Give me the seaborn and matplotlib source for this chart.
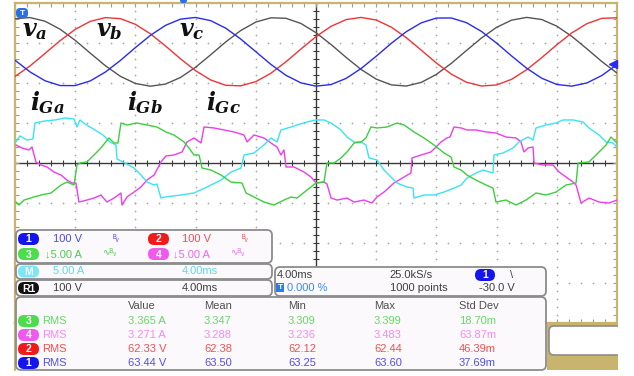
import numpy as np
import pandas as pd
import seaborn as sns
import matplotlib.pyplot as plt
from matplotlib.patches import FancyBboxPatch, Rectangle

# ---- data (time in ms, volts / amps) ----
t_volt = list(range(-20, 21))
v_a = [82.7, 85.6, 76.4, 56.4, 28.6, -3.3, -34.7, -61.2, -79.2, -86.0, -80.7, -64.1, -38.5, -7.5,
       24.6, 53.2, 74.3, 85.0, 83.8, 70.8, 47.8, 18.2, -14.0, -44.3, -68.3, -82.7, -85.6, -76.4,
       -56.4, -28.6, 3.3, 34.7, 61.2, 79.2, 86.0, 80.7, 64.1, 38.5, 7.5, -24.6, -53.2]
v_b = [-61.7, -35.3, -3.9, 28.0, 56.0, 76.1, 85.5, 82.9, 68.7, 44.8, 14.6, -17.6, -47.3, -70.4,
       -83.7, -85.1, -74.6, -53.7, -25.1, 6.9, 38.0, 63.7, 80.5, 86.0, 79.4, 61.7, 35.3, 3.9,
       -28.0, -56.0, -76.1, -85.5, -82.9, -68.7, -44.8, -14.6, 17.6, 47.3, 70.4, 83.7, 85.1]
v_c = [-21.1, -50.3, -72.5, -84.4, -84.5, -72.8, -50.8, -21.7, 10.5, 41.2, 66.1, 81.7, 85.8, 77.9,
       59.1, 31.9, 0.3, -31.4, -58.7, -77.7, -85.8, -81.9, -66.5, -41.7, -11.1, 21.1, 50.3, 72.5,
       84.4, 84.5, 72.8, 50.8, 21.7, -10.5, -41.2, -66.1, -81.7, -85.8, -77.9, -59.1, -31.9]

t_ia = [-20.00, -19.67, -19.20, -18.81, -18.67, -18.01, -17.34, -16.68, -16.08, -15.88, -15.68,
        -15.35, -14.69, -14.15, -13.69, -13.29, -13.22, -12.69, -12.09, -11.63, -11.23, -10.76,
        -10.57, -10.30, -10.03, -8.97, -8.11, -7.24, -6.31, -5.65, -4.98, -4.78, -4.12, -3.46,
        -2.99, -2.59, -2.33, -1.66, -1.26, -0.60, 0.00, 0.53, 1.00, 1.66, 2.06, 2.53, 2.99, 3.32,
        3.52, 4.05, 4.52, 4.98, 5.38, 6.05, 6.45, 6.51, 7.18, 7.84, 8.51, 9.17, 9.64, 10.03, 10.63,
        11.10, 11.76, 11.83, 12.43, 13.09, 13.49, 14.09, 14.42, 14.62, 15.28, 15.95, 16.41, 17.08,
        17.74, 18.14, 18.81, 19.27, 19.74, 20.00]
i_a = [2.50, 3.38, 2.88, 3.00, 5.00, 5.25, 5.38, 5.63, 5.50, 4.50, 5.38, 4.88, 4.13, 3.50, 2.63,
       2.25, 0.50, 0.00, -0.63, -1.50, -2.38, -2.75, -2.63, -4.38, -4.25, -4.00, -3.75, -3.00,
       -2.13, -1.13, -0.63, 1.00, 1.25, 2.25, 3.13, 2.63, 4.13, 4.50, 4.75, 5.13, 5.38, 5.38, 5.00,
       4.13, 3.25, 2.63, 2.63, 2.25, 0.63, 0.38, -0.88, -1.75, -2.50, -3.00, -3.13, -4.38, -4.00,
       -4.00, -3.63, -3.13, -2.75, -1.88, -1.25, -0.88, -1.25, 1.00, 1.25, 1.88, 2.63, 3.25, 2.88,
       4.38, 4.75, 5.00, 5.38, 5.38, 5.13, 4.38, 3.50, 2.63, 2.50, 2.00]

t_ib = [-19.93, -19.74, -19.40, -18.74, -18.27, -17.61, -16.94, -16.55, -16.08, -15.88, -15.68,
        -15.22, -14.75, -14.29, -13.76, -13.42, -13.16, -12.96, -12.56, -11.89, -11.23, -10.57,
        -9.97, -9.44, -8.77, -8.44, -8.11, -7.77, -7.57, -6.98, -6.31, -5.65, -4.92, -4.65, -4.12,
        -3.46, -2.79, -2.13, -1.66, -1.26, -0.60, 0.00, 0.53, 0.73, 1.20, 1.66, 2.06, 2.53, 2.99,
        3.32, 3.65, 4.05, 4.72, 5.38, 5.85, 6.51, 7.18, 7.84, 8.51, 8.97, 9.17, 9.64, 10.03, 10.63,
        11.30, 11.76, 11.96, 12.62, 13.29, 13.95, 14.62, 15.28, 15.95, 16.61, 17.28, 17.41, 18.14,
        18.81, 19.27, 19.60, 20.00]
i_b = [-4.88, -5.25, -4.63, -4.25, -4.00, -3.75, -2.75, -2.38, -2.75, -0.25, 0.00, 0.13, 1.00,
       1.88, 3.13, 2.50, 2.50, 5.00, 4.75, 5.00, 4.75, 4.50, 3.88, 3.50, 2.63, 1.88, 1.00, 1.00,
       -0.63, -0.88, -1.50, -2.38, -2.50, -3.75, -4.25, -4.88, -5.25, -4.63, -4.25, -4.38, -3.38,
       -2.50, -2.38, 0.00, 0.00, 0.63, 1.38, 2.50, 2.63, 3.13, 4.50, 4.38, 4.50, 5.00, 4.75, 3.88,
       3.13, 2.25, 1.25, 0.75, -0.50, -0.88, -1.50, -2.13, -2.75, -3.13, -4.88, -4.63, -5.25,
       -4.63, -3.75, -4.00, -3.63, -2.75, -2.50, 0.00, 0.13, 1.38, 2.25, 3.25, 2.50]

t_ic = [-19.93, -19.54, -19.07, -18.87, -18.61, -18.27, -17.87, -17.41, -16.94, -16.55, -16.21,
        -15.95, -15.75, -15.22, -14.75, -14.29, -13.89, -13.42, -12.96, -12.89, -12.56, -12.09,
        -11.63, -11.23, -10.76, -10.30, -9.97, -9.44, -8.90, -8.57, -8.11, -7.64, -7.44, -6.78,
        -6.11, -5.45, -4.78, -4.58, -4.12, -3.46, -2.99, -2.59, -2.33, -2.13, -1.99, -1.46, -0.80,
        -0.33, 0.00, 0.53, 0.73, 1.00, 1.40, 2.06, 2.53, 3.19, 3.72, 4.05, 4.52, 5.18, 5.85, 6.31,
        6.38, 6.98, 7.64, 8.31, 8.70, 8.90, 9.17, 9.64, 10.03, 10.63, 11.30, 11.96, 12.62, 13.29,
        13.62, 13.82, 14.09, 14.42, 14.49, 15.08, 15.75, 16.15, 16.61, 17.08, 17.28, 17.61, 18.14,
        18.81, 19.47, 20.00]
i_c = [2.25, 1.88, 1.63, 2.00, 0.13, -0.25, -0.50, -1.13, -1.50, -2.13, -2.50, -2.50, -4.88,
       -4.63, -4.38, -4.00, -4.88, -4.38, -3.75, -5.25, -4.25, -3.63, -3.00, -2.13, -1.50, 0.13,
       0.88, 1.00, 1.38, 2.63, 3.13, 2.50, 4.50, 4.38, 4.13, 3.88, 3.50, 2.63, 3.50, 3.13, 2.50,
       2.00, 1.00, 1.63, -0.50, -0.50, -1.13, -1.75, -2.50, -2.38, -2.63, -4.38, -4.63, -4.38,
       -4.88, -4.63, -5.00, -4.25, -3.63, -2.50, -1.75, -1.25, 0.63, 1.00, 1.38, 2.63, 3.13, 3.25,
       4.50, 4.38, 4.13, 4.13, 3.88, 3.75, 3.25, 3.13, 2.63, 1.38, 1.88, 2.00, 0.00, -0.25, -0.25,
       -1.13, -1.75, -2.38, -2.75, -5.00, -4.38, -4.88, -5.00, -4.63]

meas_badges = ['3', '4', '2', '1']
meas_value = ['3.365 A', '3.271 A', '62.33 V', '63.44 V']
meas_mean = ['3.347', '3.288', '62.38', '63.50']
meas_min = ['3.309', '3.236', '62.12', '63.25']
meas_max = ['3.399', '3.483', '62.44', '63.60']
meas_std = ['18.70m', '63.87m', '46.39m', '37.69m']

VOLTS_DIV = 100.0
AMPS_DIV = 5.0
V_OFFSET = 2.78

TAN = '#c8b46c'
BLUE, RED, GREEN, MAG, CYAN = '#2a2af0', '#f03434', '#3ccf3c', '#ee3cee', '#38e4f4'

sns.set_theme(style='white')
plt.rcParams['font.family'] = ['Liberation Sans', 'DejaVu Sans']
plt.rcParams['mathtext.fontset'] = 'custom'
plt.rcParams['mathtext.it'] = 'DejaVu Serif:italic:bold'
plt.rcParams['mathtext.rm'] = 'DejaVu Serif:bold'

W, H = 634, 376
fig = plt.figure(figsize=(W / 100, H / 100), dpi=100)
fig.patch.set_facecolor('white')
ax = fig.add_axes([15 / W, 1 - 323 / H, 602 / W, 320 / H])
ax.set_xlim(-20, 20)
ax.set_ylim(-4, 4)
ax.set_xticks([])
ax.set_yticks([])
ax.set_facecolor('white')
for s in ax.spines.values():
    s.set_color(TAN)
    s.set_linewidth(1.6)

# graticule
ys = np.arange(-4, 4.01, 0.2)
xs = np.arange(-20, 20.01, 0.8)
for gx in [-16, -12, -8, -4, 4, 8, 12, 16]:
    ax.scatter(np.full_like(ys, gx), ys, s=1.6, color='#a8a8a8', linewidths=0, zorder=1)
for gy in [-3, -2, -1, 1, 2, 3]:
    ax.scatter(xs, np.full_like(xs, gy), s=1.6, color='#a8a8a8', linewidths=0, zorder=1)
ax.axhline(0, color='#3a3a3a', lw=1.0, zorder=1)
ax.axvline(0, color='#3a3a3a', lw=1.0, zorder=1)
ax.plot(xs, np.zeros_like(xs), ls='none', marker='|', ms=4, mew=0.8, color='#3a3a3a', zorder=1)
ax.plot(np.zeros_like(ys), ys, ls='none', marker='_', ms=4, mew=0.8, color='#3a3a3a', zorder=1)
for yy in (-4, 4):
    ax.plot(xs, np.full_like(xs, yy), ls='none', marker='|', ms=6, mew=0.8, color='#9a9a9a', zorder=1)
for xx in (-20, 20):
    ax.plot(np.full_like(ys, xx), ys, ls='none', marker='_', ms=6, mew=0.8, color='#9a9a9a', zorder=1)

# traces
volts = pd.DataFrame({'t': t_volt, 'va': v_a, 'vb': v_b, 'vc': v_c})
for col, c in [('va', '#555555'), ('vb', RED), ('vc', BLUE)]:
    sns.lineplot(x=volts['t'], y=V_OFFSET + volts[col] / VOLTS_DIV, ax=ax, color=c,
                 lw=1.0, sort=False, estimator=None, zorder=3)
for tt, ii, c in [(t_ic, i_c, MAG), (t_ia, i_a, CYAN), (t_ib, i_b, GREEN)]:
    cur = pd.DataFrame({'t': tt, 'i': ii})
    sns.lineplot(x=cur['t'], y=cur['i'] / AMPS_DIV, ax=ax, color=c, lw=1.0,
                 sort=False, estimator=None, zorder=3)
ax.set_xlabel('')
ax.set_ylabel('')
ax.set_xlim(-20, 20)
ax.set_ylim(-4, 4)

# trigger level marker (-30 V on ch1)
ax.plot([19.75], [V_OFFSET - 30 / VOLTS_DIV], marker='<', ms=6, color=BLUE, clip_on=False, zorder=5)

# ---- overlay in pixel coordinates ----
ov = fig.add_axes([0, 0, 1, 1])
ov.set_xlim(0, W)
ov.set_ylim(H, 0)
ov.axis('off')

for txt, x in [(r'$v_a$', 22), (r'$v_b$', 96), (r'$v_c$', 179)]:
    ov.text(x, 36, txt, fontsize=17, color='#111111', va='baseline', ha='left')
for txt, x in [(r'$i_{Ga}$', 30), (r'$i_{Gb}$', 127), (r'$i_{Gc}$', 206)]:
    ov.text(x, 110, txt, fontsize=17, color='#111111', va='baseline', ha='left')

# small markers on the screen edges
ov.add_patch(FancyBboxPatch((16, 8), 12, 10, boxstyle='round,pad=0,rounding_size=4',
                            fc='#2a6ef0', ec='none'))
ov.text(22, 13.5, 'T', fontsize=6, color='white', ha='center', va='center', weight='bold')
ov.add_patch(FancyBboxPatch((180, -2), 7, 5, boxstyle='round,pad=0,rounding_size=2.5',
                            fc='#2a6ef0', ec='none'))

ov.plot([14.5, 14.5], [322, 370], color=TAN, lw=1.6)
ov.add_patch(Rectangle((547, 323), 71, 47, fc=TAN, ec='none'))
ov.add_patch(FancyBboxPatch((549, 326), 80, 29, boxstyle='round,pad=0,rounding_size=5',
                            fc='white', ec='#8c8c8c', lw=1.2))
ov.add_patch(Rectangle((618, 320), 20, 60, fc='white', ec='none', zorder=2))


def panel(x0, y0, x1, y1):
    ov.add_patch(FancyBboxPatch((x0, y0), x1 - x0, y1 - y0,
                                boxstyle='round,pad=0,rounding_size=5',
                                fc='#fcf9fc', ec='#8c8c8c', lw=1.3, zorder=2))


def badge(x, y, label, color, w=21):
    ov.add_patch(FancyBboxPatch((x, y - 6), w, 12, boxstyle='round,pad=0,rounding_size=6',
                                fc=color, ec='none', zorder=3))
    ov.text(x + w / 2, y + 0.5, label, fontsize=7.5, color='white', weight='bold',
            ha='center', va='center', zorder=4)


def label(x, y, s, color, size=8):
    ov.text(x, y, s, fontsize=size, color=color, ha='left', va='center', zorder=4)


DARK = '#404040'
panel(16, 230, 272, 263)
badge(18, 239, '1', '#1414ee')
label(53, 239, '100 V', '#4a4af0')
label(113, 238, 'ᴮᵥ', '#4a4af0', 6.5)
badge(148, 239, '2', '#f01a1a')
label(182, 239, '100 V', '#f05050')
label(242, 238, 'ᴮᵥ', '#f05050', 6.5)
badge(18, 254, '3', '#4cdc4c')
label(45, 254, '↓5.00 A', '#4ccc4c')
label(102, 253, '∿ᴮᵥ', '#4ccc4c', 6.5)
badge(148, 254, '4', '#ee5aee')
label(173, 254, '↓5.00 A', '#ee66ee')
label(230, 253, '∿ᴮᵥ', '#ee66ee', 6.5)

panel(16, 264, 272, 279)
badge(18, 271.5, 'M', '#7ae6f6')
label(53, 271.5, '5.00 A', '#5cd8ec')
label(182, 271.5, '4.00ms', '#5cd8ec')

panel(16, 280, 272, 296)
badge(18, 288, 'R1', '#111111')
label(53, 288, '100 V', DARK)
label(182, 288, '4.00ms', DARK)

panel(275, 267, 546, 296)
label(277, 275, '4.00ms', DARK)
label(389, 275, '25.0kS/s', DARK)
badge(475, 275, '1', '#1414ee', w=20)
label(510, 275, '\\', DARK)
ov.add_patch(Rectangle((276, 283), 8, 9, fc='#2a7af0', ec='none', zorder=3))
ov.text(280, 287.8, 'T', fontsize=6, color='white', ha='center', va='center', weight='bold', zorder=4)
label(287, 288, '0.000 %', '#3a8af0')
label(390, 288, '1000 points', DARK)
label(479, 288, '-30.0 V', DARK)

panel(16, 297, 546, 370)
col_x = [128, 204, 288, 374, 459]
for x, h in zip(col_x, ['Value', 'Mean', 'Min', 'Max', 'Std Dev']):
    label(x, 306, h, '#505050')
row_colors = {'3': ('#4cdc4c', '#66d866'), '4': ('#ee5aee', '#f58af5'),
              '2': ('#f01a1a', '#f05050'), '1': ('#1414ee', '#5050f0')}
for k, b in enumerate(meas_badges):
    y = 321 + 14 * k
    bc, tc = row_colors[b]
    badge(18, y, b, bc)
    label(42, y, 'RMS', tc)
    for x, s in zip(col_x, [meas_value[k], meas_mean[k], meas_min[k], meas_max[k], meas_std[k]]):
        label(x, y, s, tc)

fig.savefig('out.png', dpi=100)
